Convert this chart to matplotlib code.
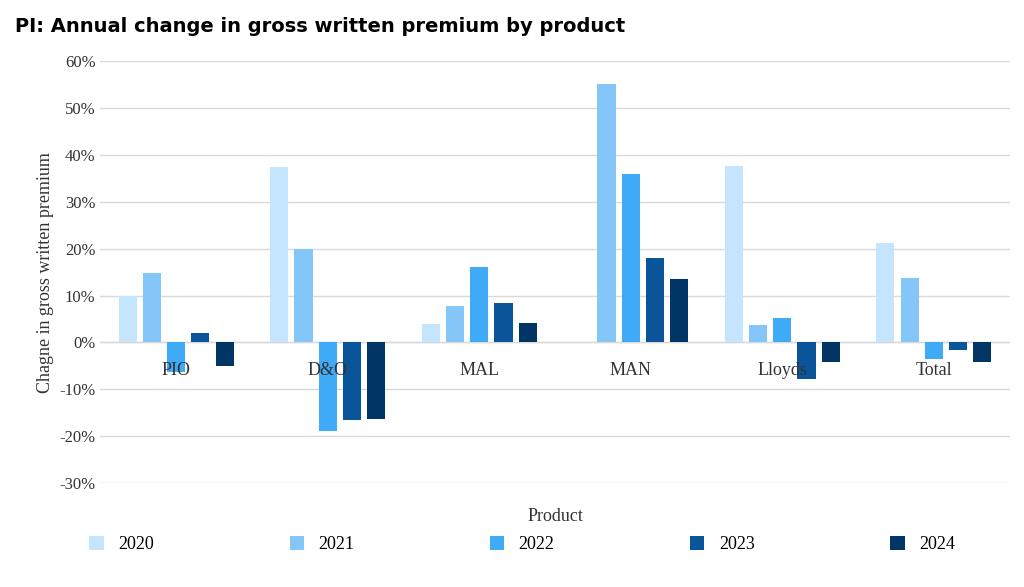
import numpy as np
import matplotlib.pyplot as plt
from matplotlib.transforms import blended_transform_factory

products = ["PIO", "D&O", "MAL", "MAN", "Lloyds", "Total"]
years = ["2020", "2021", "2022", "2023", "2024"]
v2020 = [10.0, 37.3, 4.0, np.nan, 37.7, 21.3]
v2021 = [14.7, 20.0, 7.8, 55.1, 3.8, 13.8]
v2022 = [-6.4, -18.8, 16.1, 36.0, 5.2, -3.6]
v2023 = [2.1, -16.6, 8.3, 18.0, -7.7, -1.7]
v2024 = [-5.0, -16.4, 4.1, 13.6, -4.2, -4.1]
series = [v2020, v2021, v2022, v2023, v2024]
colors = ["#c5e4fd", "#84c6f8", "#3faaf6", "#0a5499", "#003566"]

plt.rcParams.update({"font.family": "Liberation Serif", "font.size": 12})
fig = plt.figure(figsize=(10.24, 5.87), dpi=100)
ax = fig.add_axes([0.098, 0.177, 0.888, 0.719])

x = np.arange(len(products))
step, width = 0.16, 0.12
for i, (vals, c) in enumerate(zip(series, colors)):
    ax.bar(x + (i - 2) * step, vals, width, color=c, label=years[i], zorder=3)

ax.set_xlim(-0.5, len(products) - 0.5)
ax.set_ylim(-30, 60)
ax.set_yticks(range(-30, 61, 10))
ax.set_yticklabels([f"{t}%" for t in range(-30, 61, 10)], color="#333333")
ax.grid(axis="y", color="#d9d9d9", linewidth=1, zorder=0)
ax.axhline(0, color="#d9d9d9", linewidth=1, zorder=1)
for s in ax.spines.values():
    s.set_visible(False)
ax.tick_params(length=0)
ax.set_xticks([])
tr = blended_transform_factory(ax.transData, ax.transData)
for xi, p in zip(x, products):
    ax.text(xi, -6, p, ha="center", va="center", fontsize=13, color="#333333", transform=tr, zorder=4)
ax.set_xlabel("Product", fontsize=13, color="#333333", labelpad=18)
ax.set_ylabel("Chagne in gross written premium", fontsize=13, color="#333333")

fig.text(0.015, 0.955, "PI: Annual change in gross written premium by product",
         fontsize=14, fontweight="bold", family="DejaVu Sans", va="center")
fig.legend(loc="lower center", ncol=5, bbox_to_anchor=(0.51, 0.03), frameon=False,
           fontsize=13, columnspacing=7.5, handlelength=0.8, handleheight=0.8)

fig.savefig("out.png", dpi=100)
